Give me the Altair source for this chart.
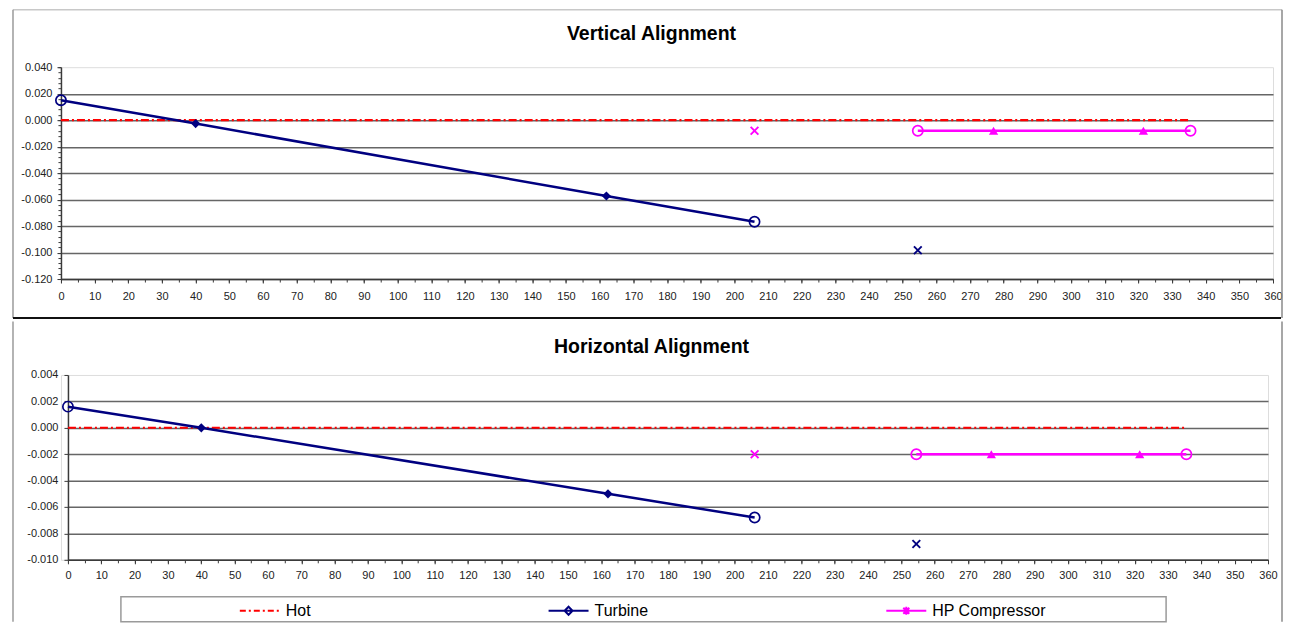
import altair as alt
import pandas as pd

# ---------------- values ----------------
series_names = ["Hot", "Turbine", "HP Compressor"]

turbine_x = [0, 40, 162, 206]
turbine_vert = [0.0151, -0.0026, -0.0573, -0.0768]
turbine_horz = [0.0016, 0.0000, -0.0050, -0.0068]
turbine_role = ["end", "mid", "mid", "end"]

turbine_single_x = [254.5]
turbine_single_vert = [-0.0983]
turbine_single_horz = [-0.0088]

hp_x = [254.5, 277, 321.5, 335.5]
hp_vert = [-0.0080, -0.0080, -0.0080, -0.0080]
hp_horz = [-0.0020, -0.0020, -0.0020, -0.0020]
hp_role = ["end", "mid", "mid", "end"]

hp_single_x = [206]
hp_single_vert = [-0.0080]
hp_single_horz = [-0.0020]

hot_x = [0, 335]
hot_vert = [0.0, 0.0]
hot_horz = [0.0, 0.0]

x_tick_values = list(range(0, 361, 10))
x_minor_values = list(range(0, 361, 5))
vert_tick_values = [-0.12, -0.10, -0.08, -0.06, -0.04, -0.02, 0.0, 0.02, 0.04]
vert_minor_values = [round(-0.12 + 0.004 * i, 3) for i in range(41)]
horz_tick_values = [-0.010, -0.008, -0.006, -0.004, -0.002, 0.0, 0.002, 0.004]

# ---------------- styles ----------------
FONT = "Liberation Sans"
NAVY = "#000080"
MAGENTA = "#FF00FF"
RED = "#FF0000"
AXIS_COLOR = "#3a3a3a"
GRID_COLOR = "#666666"
X_PATH = "M-1,-1L1,1M-1,1L1,-1"
HOT_SYM = "M-1,0H-0.7M-0.55,0H-0.45M-0.3,0H0M0.15,0H0.25M0.4,0H0.7M0.85,0H0.95"
TURB_SYM = "M-1,0H1M0,-0.2L0.2,0L0,0.2L-0.2,0Z"
HP_SYM = "M-1,0H1M-0.15,-0.15L0.15,0.15M-0.15,0.15L0.15,-0.15M0,-0.2V0.2"
MINUS = "\u2212"

one_row = pd.DataFrame({"k": [0]})


def hrule(x1, x2, y, color, w):
    return alt.Chart(one_row).mark_rule(color=color, strokeWidth=w).encode(
        x=alt.value(x1), x2=alt.value(x2), y=alt.value(y))


def vrule(x, y1, y2, color, w):
    return alt.Chart(one_row).mark_rule(color=color, strokeWidth=w).encode(
        x=alt.value(x), y=alt.value(y1), y2=alt.value(y2))


def panel(title, tvals, tsingle, hvals, hsingle, hotv, y_ticks, y_minor,
          width, height, x_range, decor, title_offset, title_dx, y_label_pad, x_label_pad,
          legend=None):
    xs = alt.Scale(domain=[0, 360], nice=False, zero=False, range=x_range)
    ys = alt.Scale(domain=[y_ticks[0], y_ticks[-1]], nice=False, zero=False)
    y_off = -x_range[0]

    ax_x_major = alt.Axis(orient="bottom", values=x_tick_values, format="d", title=None,
                          grid=False, labelFont=FONT, labelFontSize=11, labelColor="#222222",
                          labelPadding=x_label_pad, labelFlush=False, labelOverlap=False,
                          tickSize=4, tickColor=AXIS_COLOR, tickWidth=1,
                          domainColor=AXIS_COLOR, domainWidth=1.5)
    ax_x_minor = alt.Axis(orient="bottom", values=x_minor_values, title=None, grid=False,
                          labels=False, domain=False, tickSize=3, tickColor=AXIS_COLOR,
                          tickWidth=1)
    ax_y_major = alt.Axis(orient="left", values=y_ticks, title=None, grid=False, offset=y_off,
                          labelExpr="replace(format(datum.value, '.3f'), '" + MINUS + "', '-')",
                          labelFont=FONT, labelFontSize=11, labelColor="#222222",
                          labelPadding=y_label_pad, labelOverlap=False, labelFlush=False,
                          tickSize=4, tickColor=AXIS_COLOR, tickWidth=1,
                          domainColor=AXIS_COLOR, domainWidth=1.5)
    ax_y_grid = alt.Axis(orient="left", values=y_ticks[:-1], title=None, grid=True,
                         gridColor=GRID_COLOR, gridWidth=1.5, labels=False, ticks=False,
                         domain=False)
    if y_minor:
        ax_y_minor = alt.Axis(orient="left", values=y_minor, title=None, grid=False,
                              offset=y_off, labels=False, domain=False, tickSize=3,
                              tickColor=AXIS_COLOR, tickWidth=1)
    else:
        ax_y_minor = None

    hot_df = pd.DataFrame({"x": hot_x, "v": hotv})
    turb_df = pd.DataFrame({"x": turbine_x, "v": tvals, "role": turbine_role})
    turb_single_df = pd.DataFrame({"x": turbine_single_x, "v": tsingle})
    hp_df = pd.DataFrame({"x": hp_x, "v": hvals, "role": hp_role})
    hp_single_df = pd.DataFrame({"x": hp_single_x, "v": hsingle})

    def X(axis):
        return alt.X("x:Q", scale=xs, axis=axis)

    def Y(axis):
        return alt.Y("v:Q", scale=ys, axis=axis)

    hot = alt.Chart(hot_df).mark_line(color=RED, strokeWidth=2.2, strokeDash=[8, 3, 2, 3]).encode(
        x=X(ax_x_major), y=Y(ax_y_major))
    turb_line = alt.Chart(turb_df).mark_line(color=NAVY, strokeWidth=2.5).encode(
        x=X(ax_x_minor), y=Y(ax_y_grid))
    hp_line = alt.Chart(hp_df).mark_line(color=MAGENTA, strokeWidth=2.5).encode(
        x=X(None), y=Y(ax_y_minor))
    turb_mid = alt.Chart(turb_df).transform_filter(alt.datum.role == "mid").mark_point(
        shape="diamond", filled=True, size=85, color=NAVY, opacity=1).encode(x=X(None), y=Y(None))
    turb_end = alt.Chart(turb_df).transform_filter(alt.datum.role == "end").mark_point(
        shape="circle", filled=False, size=105, strokeWidth=1.7, color=NAVY, opacity=1).encode(
        x=X(None), y=Y(None))
    turb_single = alt.Chart(turb_single_df).mark_point(
        shape=X_PATH, filled=False, size=60, strokeWidth=1.9, color=NAVY, opacity=1).encode(
        x=X(None), y=Y(None))
    hp_mid = alt.Chart(hp_df).transform_filter(alt.datum.role == "mid").mark_point(
        shape="triangle-up", filled=True, size=85, color=MAGENTA, opacity=1).encode(
        x=X(None), y=Y(None))
    hp_end = alt.Chart(hp_df).transform_filter(alt.datum.role == "end").mark_point(
        shape="circle", filled=False, size=105, strokeWidth=1.7, color=MAGENTA, opacity=1).encode(
        x=X(None), y=Y(None))
    hp_single = alt.Chart(hp_single_df).mark_point(
        shape=X_PATH, filled=False, size=60, strokeWidth=1.9, color=MAGENTA, opacity=1).encode(
        x=X(None), y=Y(None))

    layers = [hot, turb_line, hp_line, turb_mid, turb_end, turb_single,
              hp_mid, hp_end, hp_single] + decor

    if legend:
        leg_df = pd.DataFrame({"series": series_names, "x": [None] * 3, "v": [None] * 3})
        leg_props = dict(orient="none", legendX=legend[0], legendY=legend[1],
                         direction="horizontal", title=None, columnPadding=234,
                         symbolSize=1600, symbolStrokeWidth=2, labelFont=FONT,
                         labelFontSize=16, labelColor="black", labelOffset=5,
                         padding=0, labelLimit=300)
        leg = alt.Chart(leg_df).mark_point(filled=False, strokeWidth=2, opacity=1).encode(
            x=X(None), y=Y(None),
            color=alt.Color("series:N", scale=alt.Scale(domain=series_names,
                                                        range=[RED, NAVY, MAGENTA]),
                            legend=alt.Legend(**leg_props)),
            shape=alt.Shape("series:N", scale=alt.Scale(domain=series_names,
                                                        range=[HOT_SYM, TURB_SYM, HP_SYM]),
                            legend=alt.Legend(**leg_props)))
        layers.append(leg)

    return alt.layer(*layers).resolve_axis(x="independent", y="independent").properties(
        width=width, height=height,
        title=alt.TitleParams(title, font=FONT, fontSize=19.5, fontWeight="bold", color="black",
                              anchor="middle", frame="group", offset=title_offset,
                              dx=title_dx))


# decorative frame of each panel (pixels relative to its plot area)
top_decor = [
    hrule(-48, 1222, -57.5, "#c8c8c8", 1.5),
    vrule(-48, -57.5, 251, "#9a9a9a", 1.5),
    vrule(1222, -57.5, 251, "#8a8a8a", 1.5),
    hrule(-48, 1221, 251, "#111111", 2),
]
bottom_decor = [
    vrule(-48, -53.5, 247, "#9a9a9a", 1.5),
    vrule(1222, -53.5, 247, "#8a8a8a", 1.5),
    alt.Chart(one_row).mark_rect(fillOpacity=0, stroke="#9a9a9a", strokeWidth=1.5).encode(
        x=alt.value(60), x2=alt.value(1106), y=alt.value(222), y2=alt.value(247)),
]

top = panel("Vertical Alignment", turbine_vert, turbine_single_vert, hp_vert, hp_single_vert,
            hot_vert, vert_tick_values, vert_minor_values, 1213, 212, [0, 1213], top_decor,
            -35.5, -15.5, 5, 7)
bottom = panel("Horizontal Alignment", turbine_horz, turbine_single_horz, hp_horz,
               hp_single_horz, hot_horz, horz_tick_values, None, 1208, 185, [7, 1208],
               bottom_decor, -36.5, -13, 6, 6, legend=(178, 215))

chart = alt.vconcat(top, bottom, spacing=0).resolve_scale(
    color="independent", shape="independent").resolve_legend(
    color="independent", shape="independent").properties(
    padding={"left": 3, "top": 0, "right": 0, "bottom": 0},
    autosize=alt.AutoSizeParams(type="pad")
).configure_view(stroke=None).configure(background="white")

chart.save("out.html", embed_options={"renderer": "svg", "actions": False})
